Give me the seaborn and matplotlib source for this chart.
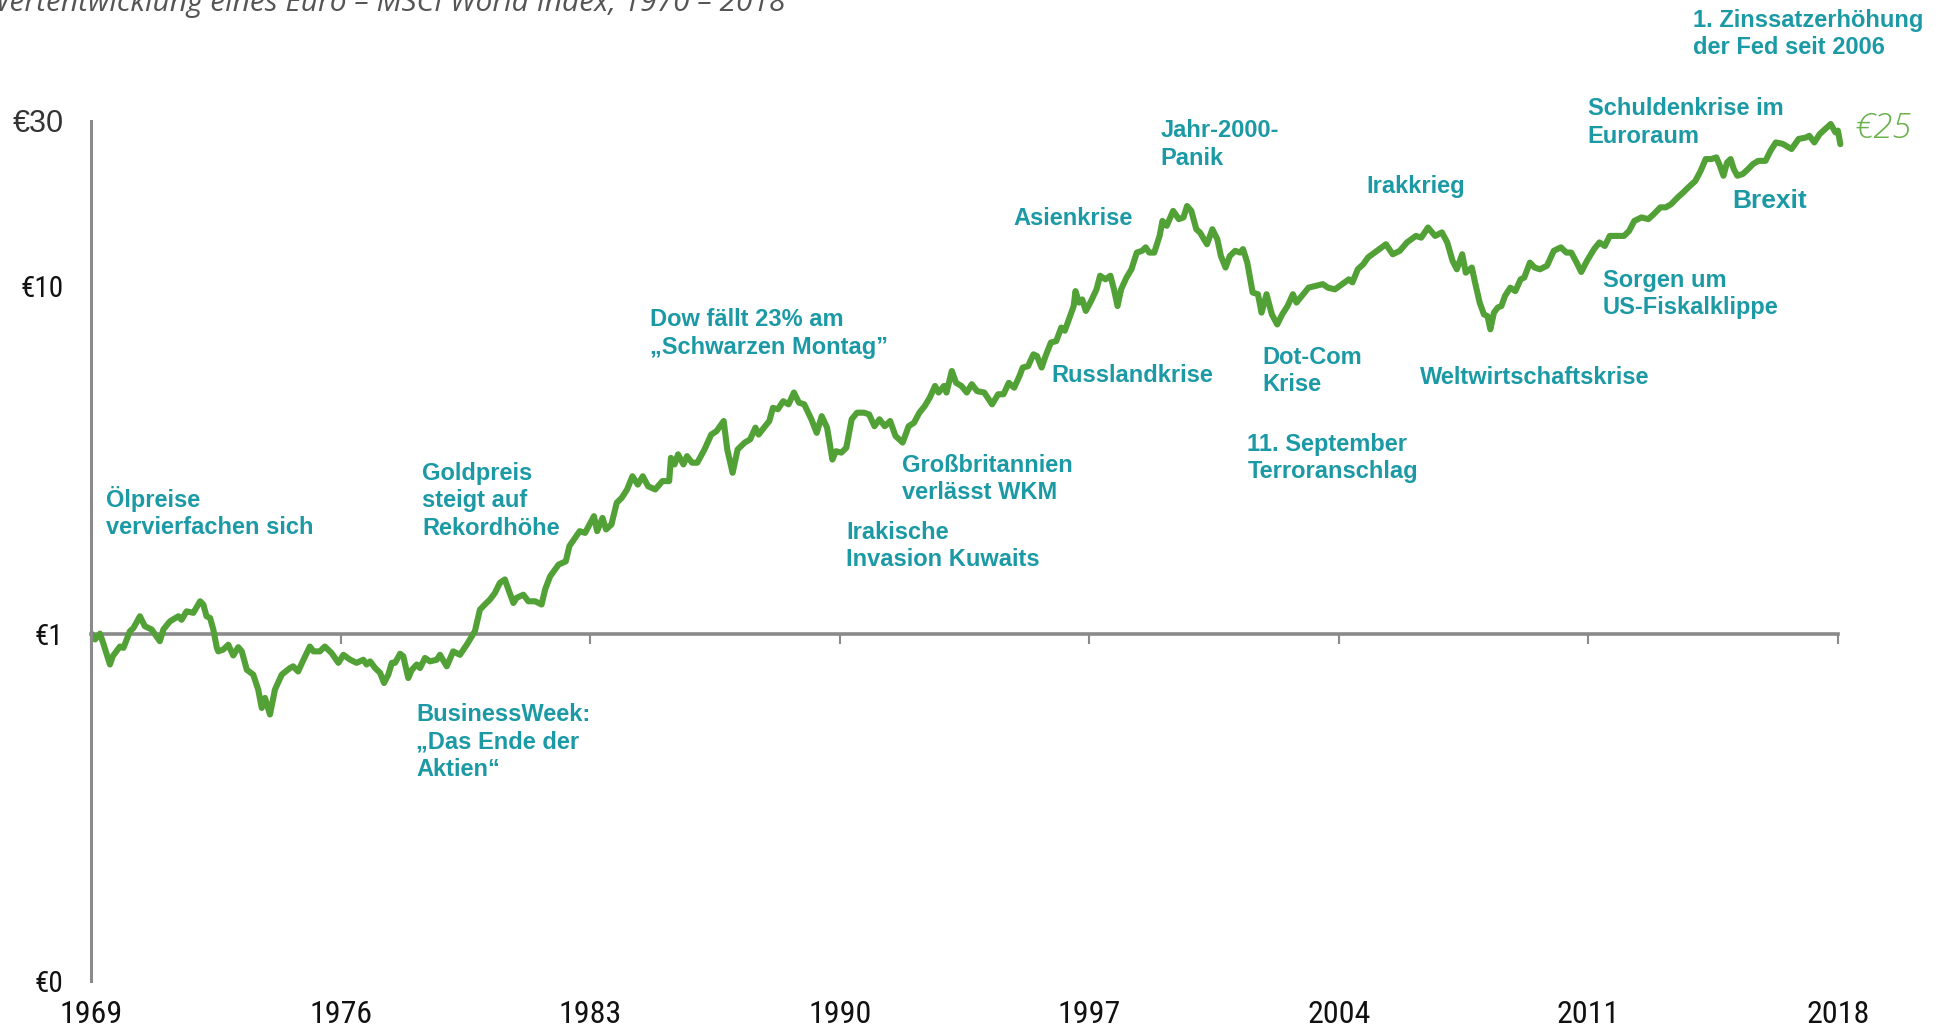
import numpy as np
import pandas as pd
import seaborn as sns
import matplotlib.pyplot as plt
from matplotlib.ticker import NullLocator

# Wertentwicklung eines Euro (MSCI World)
jahr = [1969.00, 1969.10, 1969.24, 1969.33, 1969.52, 1969.60, 1969.80, 1969.90, 1970.08, 1970.18,
        1970.36, 1970.50, 1970.69, 1970.92, 1971.02, 1971.20, 1971.44, 1971.53, 1971.67, 1971.86,
        1972.05, 1972.14, 1972.23, 1972.33, 1972.42, 1972.52, 1972.56, 1972.70, 1972.84, 1972.98,
        1973.12, 1973.22, 1973.36, 1973.54, 1973.68, 1973.78, 1973.87, 1974.01, 1974.15, 1974.34,
        1974.57, 1974.66, 1974.80, 1974.95, 1975.13, 1975.23, 1975.41, 1975.55, 1975.74, 1975.93,
        1976.07, 1976.26, 1976.44, 1976.63, 1976.72, 1976.82, 1976.96, 1977.10, 1977.21, 1977.33,
        1977.43, 1977.52, 1977.66, 1977.75, 1977.89, 1977.99, 1978.13, 1978.22, 1978.36, 1978.50,
        1978.69, 1978.78, 1978.97, 1979.15, 1979.34, 1979.53, 1979.76, 1979.90, 1980.04, 1980.18,
        1980.32, 1980.46, 1980.60, 1980.70, 1980.84, 1980.93, 1981.12, 1981.26, 1981.45, 1981.63,
        1981.73, 1981.87, 1982.11, 1982.31, 1982.41, 1982.70, 1982.85, 1983.10, 1983.19, 1983.34,
        1983.44, 1983.59, 1983.74, 1983.88, 1984.03, 1984.18, 1984.33, 1984.47, 1984.62, 1984.82,
        1985.02, 1985.21, 1985.26, 1985.36, 1985.46, 1985.61, 1985.71, 1985.85, 1986.00, 1986.20,
        1986.39, 1986.54, 1986.74, 1986.84, 1986.99, 1987.13, 1987.33, 1987.48, 1987.63, 1987.72,
        1987.87, 1988.02, 1988.12, 1988.26, 1988.41, 1988.56, 1988.71, 1988.85, 1989.00, 1989.20,
        1989.35, 1989.49, 1989.64, 1989.79, 1989.89, 1990.04, 1990.18, 1990.33, 1990.48, 1990.68,
        1990.82, 1990.97, 1991.11, 1991.26, 1991.41, 1991.56, 1991.76, 1991.93, 1992.08, 1992.23,
        1992.38, 1992.52, 1992.67, 1992.77, 1992.92, 1992.99, 1993.14, 1993.26, 1993.41, 1993.56,
        1993.70, 1993.85, 1994.05, 1994.27, 1994.44, 1994.59, 1994.74, 1994.89, 1995.04, 1995.13,
        1995.28, 1995.43, 1995.53, 1995.66, 1995.77, 1995.92, 1996.07, 1996.21, 1996.31, 1996.46,
        1996.56, 1996.61, 1996.71, 1996.80, 1996.90, 1997.05, 1997.20, 1997.30, 1997.45, 1997.59,
        1997.69, 1997.79, 1997.89, 1998.04, 1998.18, 1998.33, 1998.48, 1998.58, 1998.68, 1998.82,
        1998.97, 1999.05, 1999.17, 1999.35, 1999.51, 1999.64, 1999.74, 1999.86, 2000.00, 2000.10,
        2000.30, 2000.45, 2000.59, 2000.69, 2000.82, 2000.94, 2001.09, 2001.23, 2001.31, 2001.43,
        2001.58, 2001.73, 2001.83, 2001.97, 2002.12, 2002.27, 2002.41, 2002.56, 2002.71, 2002.81,
        2002.96, 2003.15, 2003.35, 2003.55, 2003.69, 2003.89, 2004.09, 2004.28, 2004.38, 2004.53,
        2004.68, 2004.82, 2005.07, 2005.32, 2005.51, 2005.71, 2005.91, 2006.16, 2006.31, 2006.50,
        2006.70, 2006.89, 2007.04, 2007.19, 2007.31, 2007.46, 2007.56, 2007.73, 2007.82, 2007.95,
        2008.07, 2008.17, 2008.25, 2008.35, 2008.46, 2008.56, 2008.66, 2008.81, 2008.95, 2009.10,
        2009.20, 2009.36, 2009.49, 2009.64, 2009.84, 2010.03, 2010.23, 2010.38, 2010.52, 2010.67,
        2010.80, 2010.96, 2011.16, 2011.31, 2011.46, 2011.60, 2011.80, 2012.00, 2012.14, 2012.29,
        2012.49, 2012.68, 2012.83, 2013.02, 2013.17, 2013.32, 2013.51, 2013.66, 2013.81, 2014.00,
        2014.15, 2014.29, 2014.45, 2014.59, 2014.69, 2014.79, 2014.89, 2014.99, 2015.08, 2015.18,
        2015.33, 2015.48, 2015.62, 2015.77, 2015.97, 2016.11, 2016.26, 2016.45, 2016.70, 2016.90,
        2017.10, 2017.20, 2017.34, 2017.49, 2017.64, 2017.80, 2017.93, 2018.00, 2018.07]

wert = [1.000, 0.962, 1.000, 0.940, 0.815, 0.861, 0.918, 0.910, 1.016, 1.038,
        1.122, 1.050, 1.028, 0.951, 1.028, 1.084, 1.122, 1.096, 1.159, 1.148,
        1.239, 1.213, 1.122, 1.109, 1.028, 0.910, 0.889, 0.900, 0.929, 0.865,
        0.914, 0.889, 0.787, 0.762, 0.690, 0.611, 0.653, 0.585, 0.690, 0.762,
        0.796, 0.805, 0.778, 0.841, 0.918, 0.889, 0.889, 0.918, 0.879, 0.824,
        0.869, 0.841, 0.824, 0.841, 0.815, 0.832, 0.796, 0.771, 0.721, 0.762,
        0.824, 0.824, 0.875, 0.861, 0.745, 0.787, 0.815, 0.796, 0.851, 0.832,
        0.841, 0.869, 0.805, 0.889, 0.869, 0.929, 1.016, 1.172, 1.213, 1.253,
        1.309, 1.400, 1.432, 1.340, 1.225, 1.268, 1.294, 1.239, 1.239, 1.213,
        1.340, 1.462, 1.581, 1.614, 1.786, 1.972, 1.950, 2.178, 1.972, 2.153,
        1.995, 2.061, 2.382, 2.460, 2.600, 2.838, 2.685, 2.838, 2.655, 2.600,
        2.748, 2.748, 3.206, 3.069, 3.281, 3.069, 3.243, 3.105, 3.105, 3.388,
        3.741, 3.828, 4.093, 3.388, 2.904, 3.388, 3.548, 3.622, 3.917, 3.741,
        3.917, 4.093, 4.467, 4.426, 4.667, 4.571, 4.943, 4.624, 4.571, 4.140,
        3.784, 4.227, 3.917, 3.170, 3.350, 3.319, 3.428, 4.140, 4.325, 4.325,
        4.276, 3.954, 4.140, 3.954, 4.093, 3.707, 3.548, 3.954, 4.046, 4.325,
        4.519, 4.775, 5.164, 4.943, 5.164, 4.943, 5.702, 5.272, 5.164, 4.943,
        5.224, 4.989, 4.943, 4.571, 4.887, 4.887, 5.272, 5.105, 5.521, 5.834,
        5.888, 6.368, 6.295, 5.834, 6.295, 6.887, 6.950, 7.603, 7.447, 8.222,
        8.770, 9.683, 8.974, 9.162, 8.492, 9.078, 9.795, 10.72, 10.47, 10.72,
        9.795, 8.770, 9.795, 10.59, 11.19, 12.50, 12.65, 12.94, 12.50, 12.50,
        13.96, 15.42, 14.93, 16.48, 15.60, 15.78, 17.02, 16.48, 14.59, 14.29,
        13.21, 14.59, 13.65, 12.22, 11.32, 12.22, 12.65, 12.50, 12.79, 11.70,
        9.594, 9.484, 8.395, 9.484, 8.299, 7.762, 8.299, 8.770, 9.484, 8.974,
        9.376, 9.908, 10.02, 10.14, 9.908, 9.795, 10.14, 10.47, 10.26, 11.19,
        11.56, 12.11, 12.65, 13.21, 12.36, 12.65, 13.37, 13.96, 13.80, 14.76,
        13.96, 14.29, 13.37, 11.83, 11.19, 12.36, 10.94, 11.32, 10.26, 8.974,
        8.299, 8.200, 7.516, 8.395, 8.690, 8.770, 9.376, 9.908, 9.683, 10.47,
        10.59, 11.70, 11.32, 11.19, 11.46, 12.65, 12.94, 12.50, 12.50, 11.70,
        10.99, 11.83, 12.79, 13.37, 13.06, 13.96, 13.96, 13.96, 14.42, 15.42,
        15.78, 15.60, 16.11, 16.87, 16.87, 17.22, 18.03, 18.62, 19.28, 20.09,
        21.48, 23.23, 23.23, 23.50, 22.23, 20.80, 22.70, 23.23, 21.73, 20.80,
        21.04, 21.73, 22.49, 22.96, 22.96, 24.55, 25.94, 25.70, 24.83, 26.55,
        26.79, 27.10, 25.94, 27.42, 28.31, 29.31, 27.73, 28.05, 25.64]

tick_jahre = [1969, 1976, 1983, 1990, 1997, 2004, 2011, 2018]
y_ticks = [0.1, 1, 10, 30]
y_labels = ['€0', '€1', '€10', '€30']

ereignisse = ['Ölpreise\nvervierfachen sich',
              'Goldpreis\nsteigt auf\nRekordhöhe',
              'BusinessWeek:\n„Das Ende der\nAktien“',
              'Dow fällt 23% am\n„Schwarzen Montag”',
              'Großbritannien\nverlässt WKM',
              'Irakische\nInvasion Kuwaits',
              'Asienkrise',
              'Russlandkrise',
              'Jahr-2000-\nPanik',
              'Dot-Com\nKrise',
              '11. September\nTerroranschlag',
              'Irakkrieg',
              'Weltwirtschaftskrise',
              'Sorgen um\nUS-Fiskalklippe',
              'Schuldenkrise im\nEuroraum',
              'Brexit',
              '1. Zinssatzerhöhung\nder Fed seit 2006']

# Textposition in Pixeln (links, Mitte)
pos = [(105.6, 512.5), (422.4, 500.6), (416, 741.6), (649.7, 333.5), (902, 478.9),
       (846, 546), (1013.7, 218.6), (1051, 375.2), (1160.3, 144.7), (1262.2, 370.8),
       (1247.3, 457.8), (1366.5, 186.3), (1420, 377.7), (1602.6, 293.8), (1587.7, 122.3),
       (1731.8, 201.3), (1693.3, 34.2)]

df = pd.DataFrame({'jahr': jahr, 'wert': wert})

sns.set_style('white')
plt.rcParams['font.family'] = ['Liberation Sans', 'DejaVu Sans']
schmal = ['Roboto Condensed', 'Liberation Sans Narrow', 'Liberation Sans', 'DejaVu Sans']

W, H = 1948, 1034
fig = plt.figure(figsize=(W / 100, H / 100), dpi=100)
ax = fig.add_axes([91.4 / W, 1 - 981 / H, (1845 - 91.4) / W, (981 - 120.5) / H])

teal = '#1b9aa5'
gruen = '#52a136'
grau = '#8a8a8a'

sns.lineplot(data=df, x='jahr', y='wert', ax=ax, color=gruen, linewidth=4.4,
             estimator=None, sort=False)
ax.lines[0].set_solid_joinstyle('round')
ax.lines[0].set_solid_capstyle('round')

ax.set_yscale('log')
ax.set_ylim(0.1, 30)
ax.set_xlim(1969, 2018.2)
ax.set_xlabel('')
ax.set_ylabel('')

for s in ['top', 'right']:
    ax.spines[s].set_visible(False)
ax.spines['left'].set_bounds(0.1, 30)
ax.spines['left'].set_color(grau)
ax.spines['left'].set_linewidth(2.2)
ax.spines['bottom'].set_position(('data', 1))
ax.spines['bottom'].set_bounds(1969, 2018)
ax.spines['bottom'].set_color(grau)
ax.spines['bottom'].set_linewidth(2.6)
ax.spines['bottom'].set_zorder(1)

ax.set_xticks(tick_jahre)
ax.xaxis.set_minor_locator(NullLocator())
ax.tick_params(axis='x', bottom=True, direction='out', length=7, width=1.5, color=grau,
               labelbottom=False)

ax.set_yticks(y_ticks, labels=y_labels)
ax.yaxis.set_minor_locator(NullLocator())
ax.tick_params(axis='y', left=False, length=0, pad=20)
for lab in ax.get_yticklabels():
    if lab.get_text() == '€30':
        lab.set_fontsize(22)
        lab.set_color('#333333')
    else:
        lab.set_family(schmal)
        lab.set_fontsize(21)
        lab.set_color('#111111')

sec = ax.secondary_xaxis('bottom')
sec.set_xticks(tick_jahre, labels=[str(j) for j in tick_jahre])
sec.tick_params(length=0, pad=14)
sec.spines['bottom'].set_visible(False)
for lab in sec.get_xticklabels():
    lab.set_family(schmal)
    lab.set_fontsize(23)
    lab.set_color('#111111')

for txt, (px, py) in zip(ereignisse, pos):
    fig.text(px / W, 1 - py / H, txt, ha='left', va='center', color=teal,
             fontsize=19 if txt == 'Brexit' else 17, fontweight='bold', linespacing=1.25)

fig.text(1855 / W, 1 - 129 / H, '€25', ha='left', va='center', color='#6ab04c',
         fontsize=25, fontstyle='italic', fontweight='light', family=['Open Sans', 'DejaVu Sans'])

fig.text(-0.008, 1 - 11 / H, 'Wertentwicklung eines Euro – MSCI World Index, 1970 – 2018',
         ha='left', va='baseline', color='#555555', fontsize=21.5, fontstyle='italic',
         family=['Open Sans', 'DejaVu Sans'])

fig.savefig('out.png', dpi=100)
